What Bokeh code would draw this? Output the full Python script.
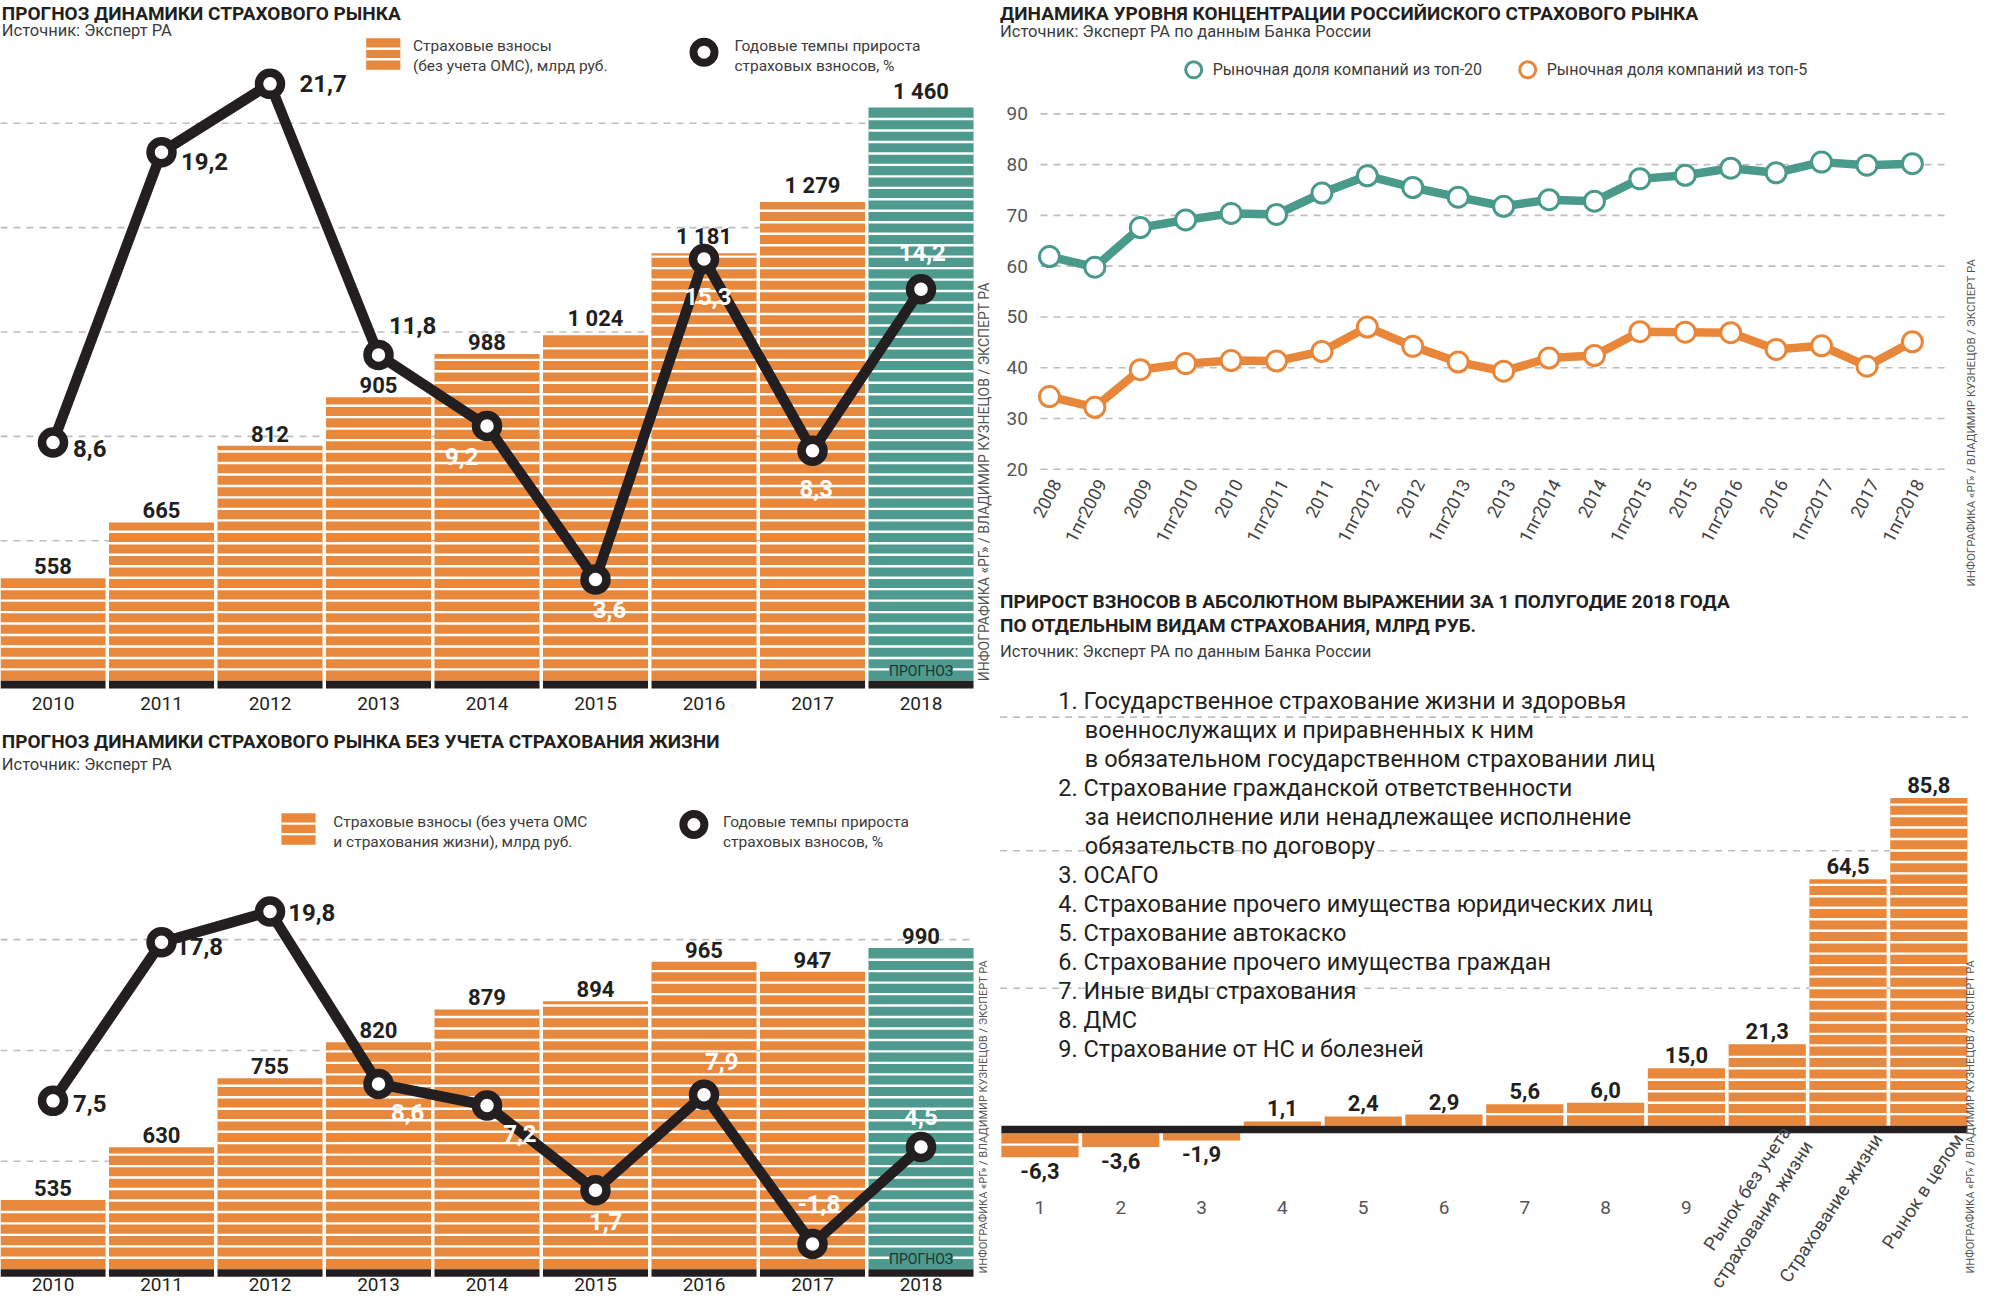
import math
from bokeh.plotting import figure
from bokeh.models import Range1d
from bokeh.core.properties import value
from bokeh.embed import file_html
from bokeh.resources import INLINE

# ---------------- data ----------------
years = ["2010", "2011", "2012", "2013", "2014", "2015", "2016", "2017", "2018"]
forecast_year = "2018"
premiums_total = [558, 665, 812, 905, 988, 1024, 1181, 1279, 1460]
growth_total = [8.6, 19.2, 21.7, 11.8, 9.2, 3.6, 15.3, 8.3, 14.2]
premiums_nonlife = [535, 630, 755, 820, 879, 894, 965, 947, 990]
growth_nonlife = [7.5, 17.8, 19.8, 8.6, 7.2, 1.7, 7.9, -1.8, 4.5]

periods = ["2008", "1пг2009", "2009", "1пг2010", "2010", "1пг2011", "2011", "1пг2012",
           "2012", "1пг2013", "2013", "1пг2014", "2014", "1пг2015", "2015", "1пг2016",
           "2016", "1пг2017", "2017", "1пг2018"]
share_top20 = [61.9, 59.8, 67.6, 69.1, 70.4, 70.2, 74.4, 77.8, 75.5, 73.6,
               71.8, 73.1, 72.8, 77.2, 77.9, 79.3, 78.4, 80.5, 79.9, 80.2]
share_top5 = [34.3, 32.2, 39.6, 40.8, 41.4, 41.3, 43.2, 48.0, 44.2, 41.1,
              39.3, 41.9, 42.4, 47.1, 47.0, 46.9, 43.6, 44.3, 40.3, 45.1]
share_ticks = [20, 30, 40, 50, 60, 70, 80, 90]

segment_codes = ["1", "2", "3", "4", "5", "6", "7", "8", "9",
                 "Рынок без учета\nстрахования жизни", "Страхование жизни", "Рынок в целом"]
premium_increase = [-6.3, -3.6, -1.9, 1.1, 2.4, 2.9, 5.6, 6.0, 15.0, 21.3, 64.5, 85.8]
segment_names = [
    ["1. Государственное страхование жизни и здоровья",
     "военнослужащих и приравненных к ним",
     "в обязательном государственном страховании лиц"],
    ["2. Страхование гражданской ответственности",
     "за неисполнение или ненадлежащее исполнение",
     "обязательств по договору"],
    ["3. ОСАГО"],
    ["4. Страхование прочего имущества юридических лиц"],
    ["5. Страхование автокаско"],
    ["6. Страхование прочего имущества граждан"],
    ["7. Иные виды страхования"],
    ["8. ДМС"],
    ["9. Страхование от НС и болезней"],
]

credit = "ИНФОГРАФИКА «РГ» / ВЛАДИМИР КУЗНЕЦОВ / ЭКСПЕРТ РА"

# ---------------- style ----------------
ORANGE = "#E8883D"
TEAL = "#4E9A8E"
LINE_TEAL = "#4A9A8B"
LINE_ORANGE = "#E8873A"
INK = "#231F20"
GREY = "#3C3C3C"
LIGHT = "#555555"
GRID = "#BDBDBD"
FONT = value("Roboto")

W, H = 1984, 1298
REF_W, REF_H = 1568.0, 1030.2
KX, KY = W / REF_W, H / REF_H


def PX(d):
    return d * KX


def PY(d):
    return H - d * KY


def mapping(v1, d1, v2, d2):
    k = (v2 - v1) / (d2 - d1)
    return lambda d: v1 + (d - d1) * k


def xr(v1, d1, v2, d2):
    f = mapping(v1, d1, v2, d2)
    return Range1d(start=f(0.0), end=f(REF_W)), f


def yr(v1, d1, v2, d2):
    f = mapping(v1, d1, v2, d2)
    return Range1d(start=f(REF_H), end=f(0.0)), f


fmt = lambda v: f"{v:.1f}".replace(".", ",")
fmt_k = lambda v: f"{v:,}".replace(",", " ")

p = figure(width=W, height=H, x_range=Range1d(0, W), y_range=Range1d(0, H),
           output_backend="svg", toolbar_location=None, min_border=0,
           x_axis_location=None, y_axis_location=None, title=None,
           outline_line_color=None, background_fill_color="white",
           border_fill_color="white")
p.xgrid.visible = False
p.ygrid.visible = False

r_yx, _ = xr(0, 41.5, 8, 727.5)
r_tl_bar, f_tl_bar = yr(1460, 85, 0, 85 + 0.4142 * 1460)
r_tl_gr, _ = yr(0, 537.7, 20, 103.1)
r_bl_bar, f_bl_bar = yr(535, 952, 990, 752)
r_bl_gr, _ = yr(0, 965, 19.8, 723)
r_tr_x, _ = xr(0, 829, 19, 1511)
r_tr_y, _ = yr(90, 90, 20, 372)
r_bx, _ = xr(0, 821.5, 11, 1524)
r_br_pos, f_br_pos = yr(0, 893, 85.8, 633)
r_br_neg, f_br_neg = yr(0, 899, -85.8, 1159)

p.extra_x_ranges = {"yx": r_yx, "trx": r_tr_x, "bx": r_bx}
p.extra_y_ranges = {"tlb": r_tl_bar, "tlg": r_tl_gr, "blb": r_bl_bar, "blg": r_bl_gr,
                    "try": r_tr_y, "brp": r_br_pos, "brn": r_br_neg}


def T(xd, yd, s, size, color=INK, bold=False, align="left", baseline="middle", angle=0.0):
    p.text(x=[PX(xd)], y=[PY(yd)], text=[s], text_font=FONT,
           text_font_size=f"{size}px", text_font_style="bold" if bold else "normal",
           text_color=color, text_align=align, text_baseline=baseline, angle=angle)


def striped_bars(xname, yname, f, xs, ends, bases, width, colors, step_d=9.1):
    step = abs(f(0.0) - f(step_d))
    p.vbar(x=xs, top=ends, bottom=bases, width=width, fill_color=colors,
           line_color=None, x_range_name=xname, y_range_name=yname)
    x0, x1, ys = [], [], []
    for x, t, b in zip(xs, ends, bases):
        sgn = 1 if t > b else -1
        k = 1
        while (t - (b + sgn * k * step)) * sgn > 0.3 * step:
            ys.append(b + sgn * k * step)
            x0.append(x - width / 2)
            x1.append(x + width / 2)
            k += 1
    p.segment(x0=x0, y0=ys, x1=x1, y1=ys, line_color="white", line_width=2.4,
              x_range_name=xname, y_range_name=yname)


def legend_bar_icon(x0, x1, y0, y1):
    p.quad(left=[PX(x0)], right=[PX(x1)], top=[PY(y0)], bottom=[PY(y1)],
           fill_color=ORANGE, line_color=None)
    ys = [PY(y0 + (y1 - y0) / 3), PY(y0 + 2 * (y1 - y0) / 3)]
    p.segment(x0=PX(x0), x1=PX(x1), y0=ys, y1=ys, line_color="white", line_width=2.4)


def ring_icon(xd, yd, color, size, lw):
    p.scatter(x=[PX(xd)], y=[PY(yd)], marker="circle", size=size, fill_color="white",
              line_color=color, line_width=lw)


def forecast_panel(bar_vals, growth_vals, bname, gname, fbar, base_d, grid_vals,
                   lab_dx, lab_dy, lab_col, year_y):
    idx = list(range(len(years)))
    fi = years.index(forecast_year)
    colors = [TEAL if y == forecast_year else ORANGE for y in years]
    width = 0.968
    base = fbar(base_d)
    p.segment(x0=PX(0), x1=PX(770), y0=grid_vals, y1=grid_vals, line_color=GRID,
              line_width=1.6, line_dash="7 6", y_range_name=bname)
    striped_bars("yx", bname, fbar, idx, bar_vals, [base] * len(idx), width, colors)
    p.quad(left=[i - width / 2 for i in idx], right=[i + width / 2 for i in idx],
           top=PY(base_d), bottom=PY(base_d + 6), fill_color=INK, line_color=None,
           x_range_name="yx")
    p.rect(x=[fi], y=[PY(base_d - 8)], width=64, height=13, width_units="screen",
           height_units="screen", fill_color=TEAL, line_color=None, x_range_name="yx")
    p.text(x=[fi], y=[PY(base_d - 8)], text=["ПРОГНОЗ"], text_font=FONT,
           text_font_size="14px", text_color="#1D3532", text_align="center",
           text_baseline="middle", x_range_name="yx")
    p.text(x=idx, y=PY(year_y), text=years, text_font=FONT, text_font_size="19px",
           text_color=INK, text_align="center", text_baseline="middle", x_range_name="yx")
    p.line(x=idx, y=growth_vals, line_color=INK, line_width=10.5, line_join="round",
           x_range_name="yx", y_range_name=gname)
    p.scatter(x=idx, y=growth_vals, marker="circle", size=22, fill_color="white",
              line_color=INK, line_width=8.5, x_range_name="yx", y_range_name=gname)
    p.text(x=idx, y=bar_vals, text=[fmt_k(v) for v in bar_vals], text_font=FONT,
           text_font_size="22px", text_font_style="bold", text_color=INK,
           text_align="center", text_baseline="bottom", y_offset=-4,
           x_range_name="yx", y_range_name=bname)
    p.text(x=idx, y=growth_vals, text=[fmt(v) for v in growth_vals],
           x_offset=[d * KX for d in lab_dx], y_offset=[d * KY for d in lab_dy],
           text_color=lab_col, text_font=FONT, text_font_size="24px",
           text_font_style="bold", text_align="center", text_baseline="middle",
           x_range_name="yx", y_range_name=gname)


B, Wt = INK, "white"

# ---------- top-left ----------
T(1, 10, "ПРОГНОЗ ДИНАМИКИ СТРАХОВОГО РЫНКА", 19, bold=True)
T(1, 24, "Источник: Эксперт РА", 16.5, GREY)
legend_bar_icon(289, 316, 30, 55)
T(326, 36, "Страховые взносы", 15.5, GREY)
T(326, 52, "(без учета ОМС), млрд руб.", 15.5, GREY)
ring_icon(556, 41, INK, 21, 8)
T(580, 36, "Годовые темпы прироста", 15.5, GREY)
T(580, 52, "страховых взносов, %", 15.5, GREY)
forecast_panel(premiums_total, growth_total, "tlb", "tlg", f_tl_bar, 540,
               [630, 830, 1030, 1230, 1430],
               [29, 34, 42, 27, -20, 11, 3, 3, 1],
               [5, 7, 0, -23, 24, 24, 30, 30, -29],
               [B, B, B, B, Wt, Wt, Wt, Wt, Wt], 558)
T(777, 382, credit, 14, LIGHT, align="center", angle=math.pi / 2)

# ---------- bottom-left ----------
T(1, 588, "ПРОГНОЗ ДИНАМИКИ СТРАХОВОГО РЫНКА БЕЗ УЧЕТА СТРАХОВАНИЯ ЖИЗНИ", 19, bold=True)
T(1, 606, "Источник: Эксперт РА", 16.5, GREY)
legend_bar_icon(222, 249, 645, 670)
T(263, 652, "Страховые взносы (без учета ОМС", 15.5, GREY)
T(263, 668, "и страхования жизни), млрд руб.", 15.5, GREY)
ring_icon(548, 654, INK, 21, 8)
T(571, 652, "Годовые темпы прироста", 15.5, GREY)
T(571, 668, "страховых взносов, %", 15.5, GREY)
forecast_panel(premiums_nonlife, growth_nonlife, "blb", "blg", f_bl_bar, 1007,
               [605, 805, 1005],
               [29, 30, 33, 23, 26, 8, 14, 5, 0],
               [2, 3, 1, 23, 22, 25, -26, -32, -24],
               [B, B, B, Wt, Wt, Wt, Wt, Wt, Wt], 1019)
T(777, 886, credit, 11, LIGHT, align="center", angle=math.pi / 2)

# ---------- top-right ----------
T(790, 10, "ДИНАМИКА УРОВНЯ КОНЦЕНТРАЦИИ РОССИЙИСКОГО СТРАХОВОГО РЫНКА", 19, bold=True)
T(790, 25, "Источник: Эксперт РА по данным Банка России", 16.5, GREY)
ring_icon(943, 55, LINE_TEAL, 16, 3)
T(958, 55, "Рыночная доля компаний из топ-20", 16, GREY)
ring_icon(1207, 55, LINE_ORANGE, 16, 3)
T(1222, 55, "Рыночная доля компаний из топ-5", 16, GREY)
p.segment(x0=PX(822), x1=PX(1540), y0=share_ticks, y1=share_ticks, line_color=GRID,
          line_width=1.6, line_dash="7 6", y_range_name="try")
p.text(x=PX(812), y=share_ticks, text=[str(t) for t in share_ticks], text_font=FONT,
       text_font_size="19px", text_color=LIGHT, text_align="right",
       text_baseline="middle", y_range_name="try")
pidx = list(range(len(periods)))
for series, col in ((share_top20, LINE_TEAL), (share_top5, LINE_ORANGE)):
    p.line(x=pidx, y=series, line_color=col, line_width=8.5, line_join="round",
           x_range_name="trx", y_range_name="try")
    p.scatter(x=pidx, y=series, marker="circle", size=20, fill_color="white",
              line_color=col, line_width=3, x_range_name="trx", y_range_name="try")
p.text(x=pidx, y=PY(381), text=periods, angle=math.radians(62), text_font=FONT,
       text_font_size="18px", text_color="#444444", text_align="right",
       text_baseline="middle", x_offset=7, x_range_name="trx")
T(1557, 335, credit, 11.5, LIGHT, align="center", angle=math.pi / 2)

# ---------- bottom-right ----------
T(790, 477, "ПРИРОСТ ВЗНОСОВ В АБСОЛЮТНОМ ВЫРАЖЕНИИ ЗА 1 ПОЛУГОДИЕ 2018 ГОДА", 19, bold=True)
T(790, 496, "ПО ОТДЕЛЬНЫМ ВИДАМ СТРАХОВАНИЯ, МЛРД РУБ.", 19, bold=True)
T(790, 517, "Источник: Эксперт РА по данным Банка России", 16.5, GREY)
p.segment(x0=PX(790), x1=PX(1555), y0=[36, 72, 107], y1=[36, 72, 107], line_color=GRID,
          line_width=1.6, line_dash="7 6", y_range_name="brp")
line_no = 0
for item in segment_names:
    for j, s in enumerate(item):
        T(836 if j == 0 else 857, 556 + 23 * line_no, s, 23.5, INK)
        line_no += 1

bw = 0.955
pos = [i for i, v in enumerate(premium_increase) if v >= 0]
neg = [i for i, v in enumerate(premium_increase) if v < 0]
striped_bars("bx", "brp", f_br_pos, pos, [premium_increase[i] for i in pos], [0] * len(pos),
             bw, [ORANGE] * len(pos))
striped_bars("bx", "brn", f_br_neg, neg, [premium_increase[i] for i in neg], [0] * len(neg),
             bw, [ORANGE] * len(neg))
p.quad(left=[-bw / 2], right=[len(premium_increase) - 1 + bw / 2], top=PY(893),
       bottom=PY(899), fill_color=INK, line_color=None, x_range_name="bx")
p.text(x=pos, y=[premium_increase[i] for i in pos], text=[fmt(premium_increase[i]) for i in pos],
       text_font=FONT, text_font_size="22px", text_font_style="bold", text_color=INK,
       text_align="center", text_baseline="bottom", y_offset=-5,
       x_range_name="bx", y_range_name="brp")
p.text(x=neg, y=[premium_increase[i] for i in neg], text=[fmt(premium_increase[i]) for i in neg],
       text_font=FONT, text_font_size="22px", text_font_style="bold", text_color=INK,
       text_align="center", text_baseline="top", y_offset=6,
       x_range_name="bx", y_range_name="brn")
num_idx = [i for i, c in enumerate(segment_codes) if "\n" not in c and len(c) <= 2]
long_idx = [i for i in range(len(segment_codes)) if i not in num_idx]
p.text(x=num_idx, y=PY(958), text=[segment_codes[i] for i in num_idx], text_font=FONT,
       text_font_size="19px", text_color=LIGHT, text_align="center",
       text_baseline="middle", x_range_name="bx")
p.text(x=long_idx, y=PY(901), text=[segment_codes[i] for i in long_idx], text_font=FONT,
       text_font_size="18.5px", text_color="#444444", text_align="right",
       text_baseline="middle", angle=math.radians(57), x_offset=24 * KX,
       x_range_name="bx")
T(1557, 886, credit, 11, LIGHT, align="center", angle=math.pi / 2)

open("out.html", "w").write(file_html(p, INLINE))
